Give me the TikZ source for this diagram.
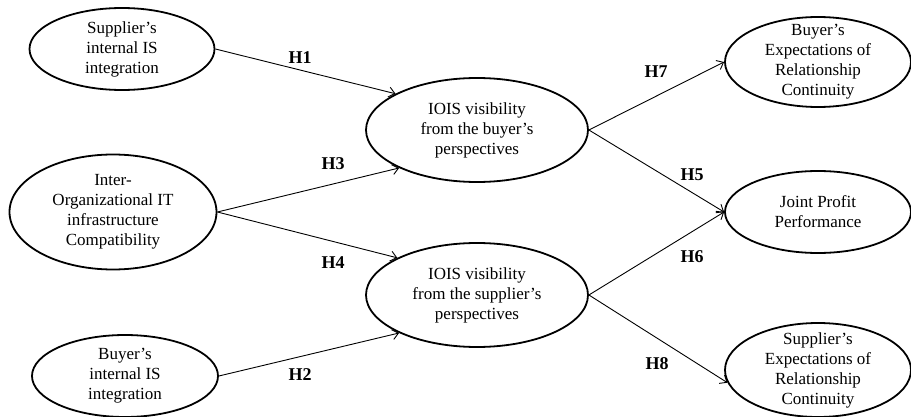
\documentclass[tikz,border=0pt]{standalone}
\usepackage{fontspec}
\setmainfont{Liberation Serif}
\usetikzlibrary{shapes.geometric,arrows.meta}

\begin{document}
\begin{tikzpicture}[
            x=1pt, y=-1pt,
            every node/.style={font=\fontsize{17}{20}\selectfont, align=center},
            construct/.style={draw, ellipse, line width=1.8pt, inner sep=0pt},
            hyp/.style={font=\fontsize{18}{20}\selectfont\bfseries},
            % every label/.style = {text width=40mm},
            ]
            \useasboundingbox (0,0) rectangle (911,417);

            \node[construct, minimum width=185, minimum height=82,
                label=center:{Supplier's\\internal IS\\integration}] (supIS) at (122, 49) {};
            \node[construct, minimum width=207, minimum height=115,
                label=center:{Inter-\\Organizational IT\\infrastructure\\Compatibility}] (itComp) at (113, 212) {};
            \node[construct, minimum width=186, minimum height=82,
                label=center:{Buyer's\\internal IS\\integration}] (buyIS) at (125, 376) {};

            \node[construct, minimum width=222, minimum height=104,
                label=center:{IOIS visibility\\from the buyer's\\perspectives}] (visBuy) at (477, 130) {};
            \node[construct, minimum width=222, minimum height=104,
                label=center:{IOIS visibility\\from the supplier's\\perspectives}] (visSup) at (477, 295) {};

            \node[construct, minimum width=186, minimum height=90,
                label=center:{Buyer's\\Expectations of\\Relationship\\Continuity}] (buyERC) at (818, 62) {};
            \node[construct, minimum width=186, minimum height=82,
                label=center:{Joint Profit\\Performance}] (jpp) at (818, 212) {};
            \node[construct, minimum width=186, minimum height=94,
                label=center:{Supplier's\\Expectations of\\Relationship\\Continuity}] (supERC) at (818, 370) {};

            \begin{scope}[-{Straight Barb[length=6pt,width=10pt]}, line width=0.9pt]
                \draw (supIS.east) -- (visBuy.156);
                \draw (itComp.east) -- (visBuy.206);
                \draw (itComp.east) -- (visSup.155);
                \draw (buyIS.east) -- (visSup.206);
                \draw (visBuy.east) -- (buyERC.west);
                \draw (visBuy.east) -- (jpp.west);
                \draw (visSup.east) -- (jpp.west);
                \draw (visSup.east) -- (supERC.188);
            \end{scope}

            \node[hyp] (h1) at (300, 58) {H1};
            \node[hyp] (h2) at (300, 375) {H2};
            \node[hyp] (h3) at (333, 164) {H3};
            \node[hyp] (h4) at (333, 263) {H4};
            \node[hyp] (h5) at (692, 175) {H5};
            \node[hyp] (h6) at (692, 257) {H6};
            \node[hyp] (h7) at (656, 72) {H7};
            \node[hyp] (h8) at (657, 364) {H8};
        \end{tikzpicture}
\end{document}
